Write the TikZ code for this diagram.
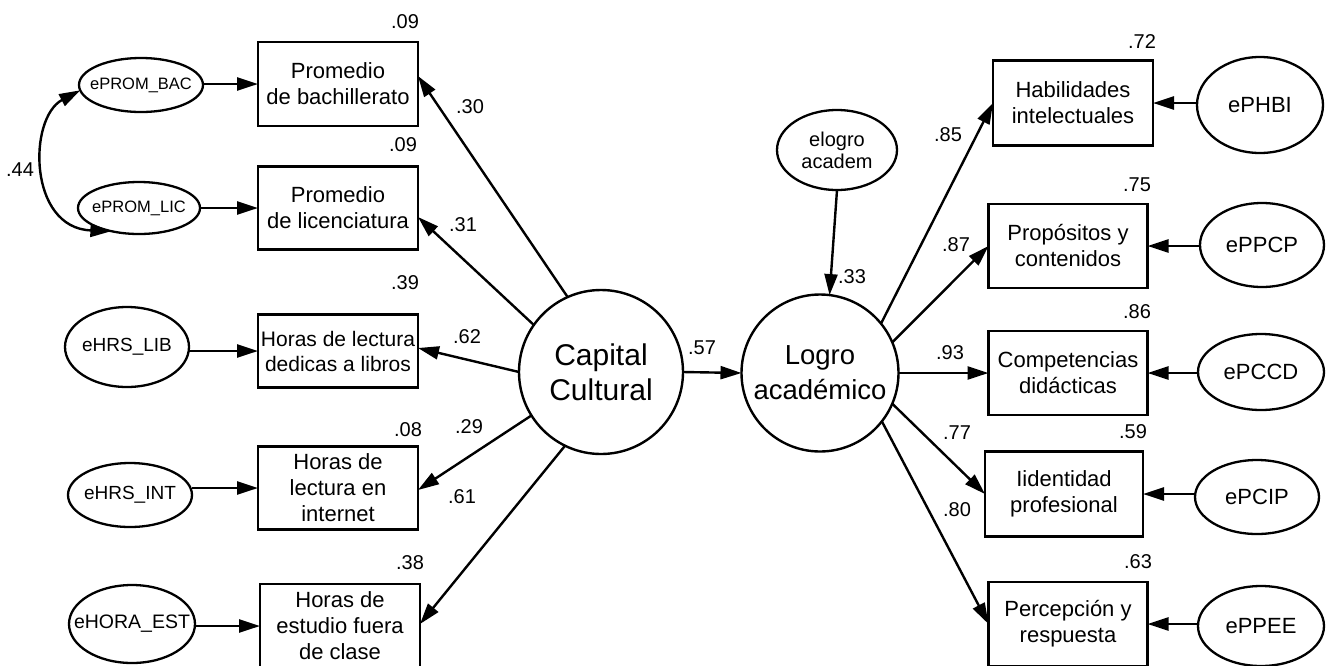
\documentclass[tikz,border=0pt]{standalone}
\usepackage{fontspec}
\setmainfont{Liberation Sans}
\usetikzlibrary{arrows.meta,shapes.geometric}
\begin{document}
\begin{tikzpicture}[x=1pt,y=-1pt,
  every node/.style={inner sep=0pt, outer sep=0pt},
  obs/.style={draw, line width=2.6pt, minimum width=160pt, minimum height=84pt,
    align=center, font=\fontsize{22}{26}\selectfont},
  errell/.style args={#1/#2}{draw, ellipse, line width=2.3pt,
    minimum width=#1pt, minimum height=#2pt},
  lat/.style={draw, circle, line width=2.4pt, minimum size=#1pt},
  inlbl/.style={align=center},
  coef/.style={font=\fontsize{20}{22}\selectfont},
  tip/.style={line width=2.4pt, -{Triangle[length=21pt,width=13pt]}},
  dbltip/.style={line width=2.4pt,
    {Triangle[length=21pt,width=13pt]}-{Triangle[length=21pt,width=13pt]}},
]
\useasboundingbox (0,0) rectangle (1331,665);

% observed indicators of Capital Cultural
\node[obs] (b1) at (338,84) {Promedio\\de bachillerato};
\node[obs, minimum height=83pt] (b2) at (338,208) {Promedio\\de licenciatura};
\node[obs, minimum height=73pt, font=\fontsize{21}{25}\selectfont] (b3) at (338,351) {Horas de lectura\\dedicas a libros};
\node[obs, minimum height=83pt] (b4) at (338,488) {Horas de\\lectura en\\internet};
\node[obs] (b5) at (340,626) {Horas de\\estudio fuera\\de clase};

% error terms, left
\node[errell=124/54, label={[inlbl, font=\fontsize{16.5}{18}\selectfont]center:ePROM\_BAC}] (e1) at (141,85) {};
\node[errell=122/52, label={[inlbl, font=\fontsize{16.5}{18}\selectfont]center:ePROM\_LIC}] (e2) at (139,208) {};
\node[errell=124/80, label={[inlbl, font=\fontsize{19}{20}\selectfont]center:eHRS\_LIB}] (e3) at (127,347) {};
\node[errell=124/64, label={[inlbl, font=\fontsize{19}{20}\selectfont]center:eHRS\_INT}] (e4) at (130,495) {};
\node[errell=126/78, label={[inlbl, font=\fontsize{19.5}{20}\selectfont]center:eHORA\_EST}] (e5) at (132,624) {};

% latent variables
\node[lat=164, label={[inlbl, font=\fontsize{30}{35}\selectfont]center:Capital\\Cultural}] (cc) at (601,372) {};
\node[lat=157, label={[inlbl, font=\fontsize{27.5}{35}\selectfont]center:Logro\\académico}] (la) at (820,373) {};
\node[errell=120/80, label={[inlbl, font=\fontsize{20}{22}\selectfont]center:elogro\\academ}] (el) at (837,150) {};

% observed indicators of Logro académico
\node[obs, minimum height=85pt] (r1) at (1073,103) {Habilidades\\intelectuales};
\node[obs, minimum width=159pt] (r2) at (1068,246) {Propósitos y\\contenidos};
\node[obs, minimum width=159pt] (r3) at (1068,373) {Competencias\\didácticas};
\node[obs, minimum width=158pt, minimum height=85pt] (r4) at (1064,494) {Iidentidad\\profesional};
\node[obs, minimum width=159pt] (r5) at (1068,624) {Percepción y\\respuesta};

% error terms, right
\node[errell=126/96, label={[inlbl, font=\fontsize{22}{24}\selectfont]center:ePHBI}] (f1) at (1260,105) {};
\node[errell=124/84, label={[inlbl, font=\fontsize{22}{24}\selectfont]center:ePPCP}] (f2) at (1262,245) {};
\node[errell=126/76, label={[inlbl, font=\fontsize{22}{24}\selectfont]center:ePCCD}] (f3) at (1261,372) {};
\node[errell=124/74, label={[inlbl, font=\fontsize{22}{24}\selectfont]center:ePCIP}] (f4) at (1257,497) {};
\node[errell=126/80, label={[inlbl, font=\fontsize{22}{24}\selectfont]center:ePPEE}] (f5) at (1261,626) {};

% error paths, left
\draw[tip] (e1.east |- b1.west) -- (b1.west);
\draw[tip] (e2.east |- b2.west) -- (b2.west);
\draw[tip] (e3.east |- b3.west) -- (b3.west);
\draw[tip] (e4.east |- b4.west) -- (b4.west);
\draw[tip] (e5.east |- b5.west) -- (b5.west);
% covariance between the two grade errors
\draw[dbltip] (e1.185) .. controls (28,118) and (28,228) .. (e2.220);

% loadings of Capital Cultural
\draw[tip] (cc.114) -- ([yshift=8pt]b1.east);
\draw[tip] (cc.145) -- ([yshift=-9pt]b2.east);
\draw[tip] (cc.180) -- ([yshift=3pt]b3.east);
\draw[tip] (cc.212) -- ([yshift=-2pt]b4.east);
\draw[tip] (cc.244) -- ([yshift=2pt]b5.east);

% structural paths
\draw[tip] (cc.0) -- (la.180);
\draw[tip] (el.south) -- (la.83);

% loadings of Logro académico
\draw[tip] (la.39) -- (r1.west);
\draw[tip] (la.23) -- (r2.west);
\draw[tip] (la.0) -- (r3.west);
\draw[tip] (la.337) -- (r4.west);
\draw[tip] (la.322) -- (r5.west);

% error paths, right
\draw[tip] (f1.west |- r1.east) -- (r1.east);
\draw[tip] (f2.west |- r2.east) -- (r2.east);
\draw[tip] (f3.west |- r3.east) -- (r3.east);
\draw[tip] (f4.west |- r4.east) -- (r4.east);
\draw[tip] (f5.west |- r5.east) -- (r5.east);

% squared multiple correlations
\node[coef] (s1) at (405,22) {.09};
\node[coef] (s2) at (403,145) {.09};
\node[coef] (s3) at (405,283) {.39};
\node[coef] (s4) at (408,430) {.08};
\node[coef] (s5) at (410,563) {.38};
\node[coef] (t1) at (1142,42) {.72};
\node[coef] (t2) at (1137,185) {.75};
\node[coef] (t3) at (1137,312) {.86};
\node[coef] (t4) at (1133,432) {.59};
\node[coef] (t5) at (1138,562) {.63};

% path coefficients
\node[coef] (c0) at (20,170) {.44};
\node[coef] (c1) at (470,107) {.30};
\node[coef] (c2) at (463,225) {.31};
\node[coef] (c3) at (467,337) {.62};
\node[coef] (c4) at (469,427) {.29};
\node[coef] (c5) at (462,497) {.61};
\node[coef] (c6) at (702,348) {.57};
\node[coef] (c7) at (852,277) {.33};
\node[coef] (d1) at (948,135) {.85};
\node[coef] (d2) at (956,245) {.87};
\node[coef] (d3) at (950,353) {.93};
\node[coef] (d4) at (957,433) {.77};
\node[coef] (d5) at (957,510) {.80};
\end{tikzpicture}
\end{document}
